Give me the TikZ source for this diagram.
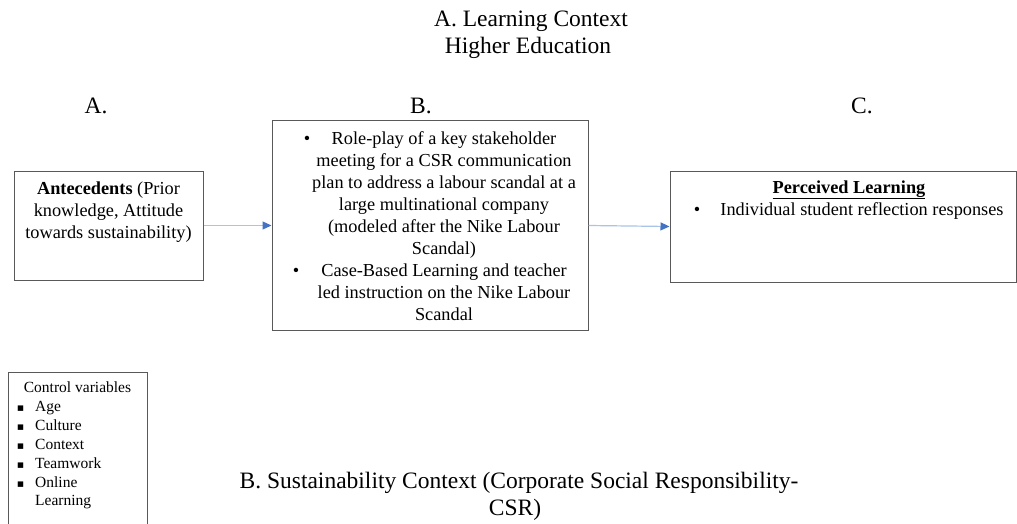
\documentclass[tikz,border=0pt]{standalone}
\usepackage{fontspec}
\setmainfont{Liberation Serif}
\newfontfamily\symbfont{DejaVu Sans}
\usetikzlibrary{arrows.meta}

\definecolor{boxline}{rgb}{0.350000, 0.350000, 0.350000}
\definecolor{linkline}{rgb}{0.660000, 0.770000, 0.910000}
\definecolor{linktip}{rgb}{0.270000, 0.450000, 0.770000}

\tikzset{
  frame/.style={draw=boxline, line width=1pt, fill=white, inner sep=0pt},
  head/.style={font=\fontsize{23.5}{27}\selectfont, align=center, inner sep=0pt, anchor=base},
  body/.style={font=\fontsize{18.3}{22}\selectfont, align=center, inner sep=0pt, anchor=base},
  small/.style={font=\fontsize{15.5}{19}\selectfont, align=left, inner sep=0pt, anchor=base west},
  link/.style={draw=linkline, line width=1.2pt, -{Triangle[length=9pt, width=8pt, color=linktip]}},
}

\begin{document}
\begin{tikzpicture}[x=1pt, y=-1pt]
\useasboundingbox (0,0) rectangle (1017,524);

% titles (multi-line nodes sit on their last baseline)
\node[head] (ctxa) at (531,27) {A. Learning Context};
\node[head] (ctxa2) at (528,54) {Higher Education};
\node[head] (lbla) at (96,114) {A.};
\node[head] (lblb) at (421,114) {B.};
\node[head] (lblc) at (862,114) {C.};

% the three boxes
\node[frame, minimum width=189pt, minimum height=109pt] (ante) at (108.5,225.5) {};
\node[frame, minimum width=316pt, minimum height=209pt] (role) at (430,225.5) {};
\node[frame, minimum width=346pt, minimum height=111pt] (perc) at (843,226.5) {};

% box A
\node[body] (antetxt) at (108.5,238) {\textbf{Antecedents} (Prior\\knowledge, Attitude\\towards sustainability)};

% box B
\node[body] (bula) at (307,144) {•};
\node[body] (roletxt) at (444,254) {Role-play of a key stakeholder\\meeting for a CSR communication\\plan to address a labour scandal at a\\large multinational company\\(modeled after the Nike Labour\\Scandal)};
\node[body] (bulb) at (296,276) {•};
\node[body] (casetxt) at (444,320) {Case-Based Learning and teacher\\led instruction on the Nike Labour\\Scandal};

% box C
\node[body] (perchead) at (849,193) {\underline{\textbf{Perceived Learning}}};
\node[body] (bulc) at (697,215) {•};
\node[body] (perctxt) at (862,215) {Individual student reflection responses};

% links
\draw[link] (ante.east) -- (role.west);
\draw[link] (role.east) -- (perc.west);

% control variables
\node[frame, minimum width=139pt, minimum height=170pt, anchor=north west] (ctrl) at (8,372) {};
\node[small, anchor=base] (ctrlhead) at (77.5,392) {Control variables};
\foreach \y/\word [count=\i] in {411/Age, 430/Culture, 449/Context, 468/Teamwork, 487/Online}{
  \node[small, anchor=base] (sq\i) at (20.5,\y) {\symbfont\fontsize{11}{11}\selectfont ▪};
  \node[small] (var\i) at (35,\y) {\word};
}
\node[small] (var6) at (35,505) {Learning};

% bottom context
\node[head] (ctxb) at (519,488) {B. Sustainability Context (Corporate Social Responsibility-};
\node[head] (ctxb2) at (515,515) {CSR)};
\end{tikzpicture}
\end{document}
